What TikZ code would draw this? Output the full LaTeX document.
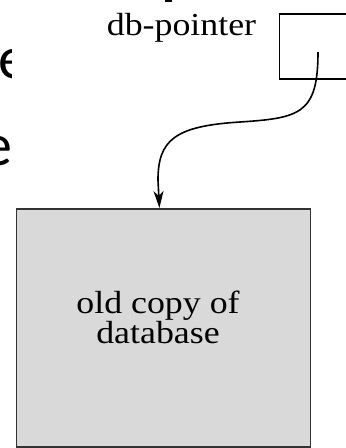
\documentclass[tikz,border=0pt]{standalone}
\usepackage{fontspec}
\setmainfont{Liberation Serif}
\newfontfamily\slidefont{Carlito}
\usetikzlibrary{arrows.meta}

\definecolor{dbgray}{RGB}{217,217,217}

\begin{document}
\begin{tikzpicture}[x=1pt, y=-1pt,
    lbl/.style={font=\fontsize{32}{30}\selectfont, inner sep=0pt, xscale=1.12},
    slide/.style={font=\slidefont\fontsize{60}{60}\selectfont, inner sep=0pt},
    dbbox/.style={draw=black!80, line width=1.8pt, fill=dbgray, anchor=north west},
    ptr/.style={line width=1.6pt, -{Stealth[length=17pt, width=10pt, inset=5pt]}}]
  \useasboundingbox (0,0) rectangle (346,448);

  % slide lettering peeking out on the left
  \begin{scope}
    \clip (0,0) rectangle (11,448);
    \node[slide, anchor=base west] (slidea) at (-1.5,78) {e};
    \node[slide, anchor=base east] (slideb) at (12.5,165) {e};
  \end{scope}
  \fill (165,0) rectangle (172,2);

  % pointer cell, runs off the right edge
  \node[draw, line width=1.5pt, anchor=north west,
        minimum width=90pt, minimum height=65pt] (ptrbox) at (278.5,13) {};
  \node[lbl, anchor=base] (ptrlbl) at (181.5,35) {db-pointer};
  \coordinate (ptr) at (318,52);

  % the database itself
  \node[dbbox, minimum width=294pt, minimum height=238pt] (olddb) at (15.5,208) {};
  \node[lbl, align=center] (oldtxt) at (158,317) {old copy of\\database};

  \draw[ptr] (ptr) .. controls (318,114) and (300,118) .. (240,122)
                   .. controls (175,126) and (158,140) .. (158,180)
                   -- ([xshift=-4pt]olddb.north);
\end{tikzpicture}
\end{document}
